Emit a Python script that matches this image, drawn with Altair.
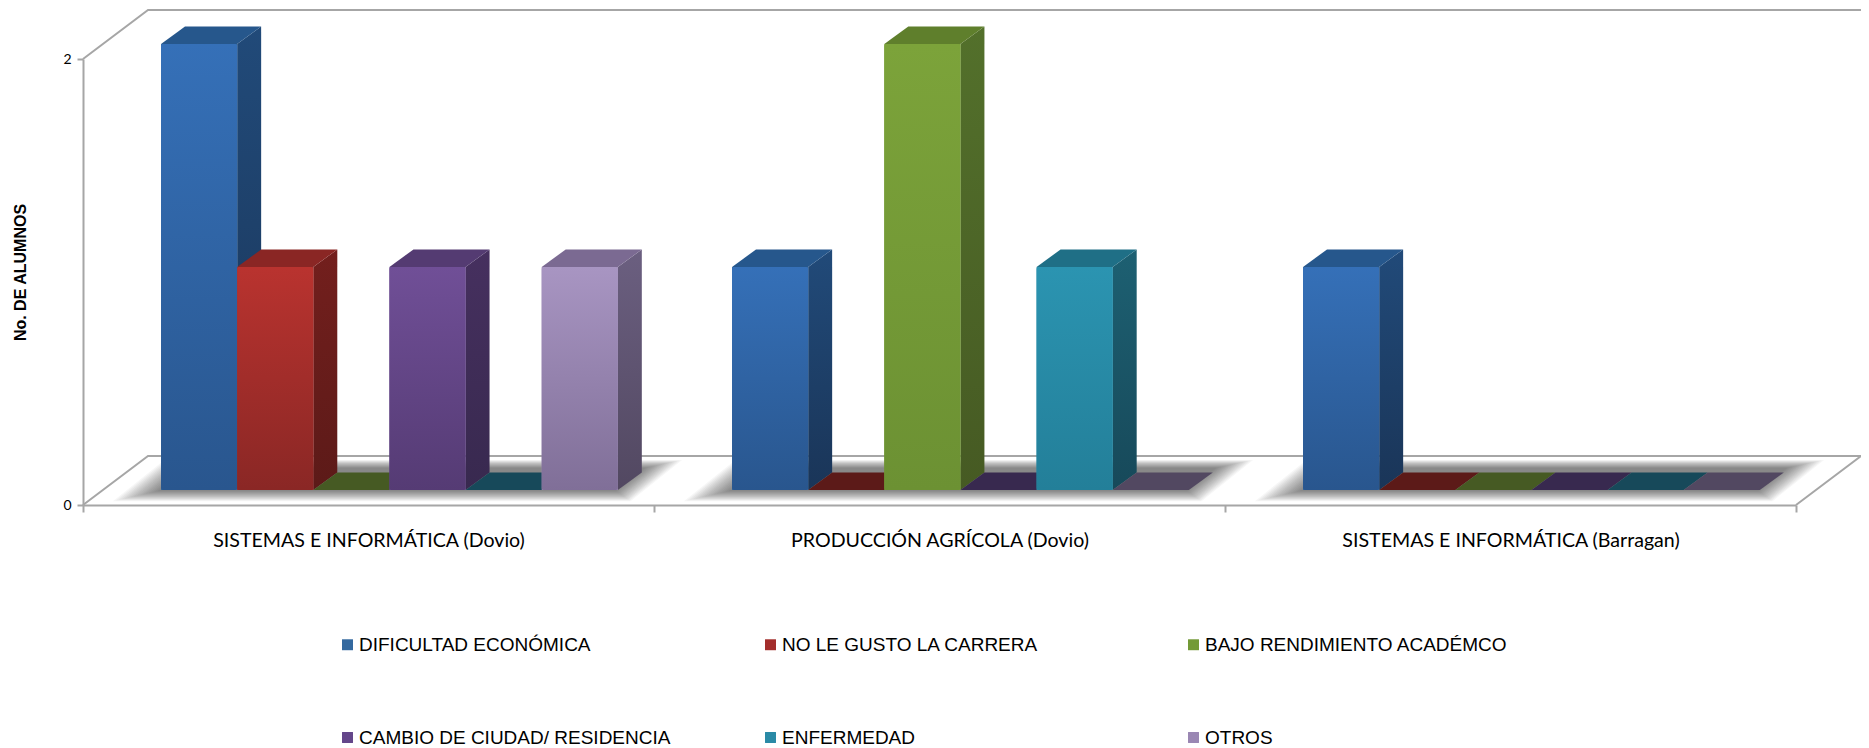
import altair as alt
import pandas as pd

categories = ["SISTEMAS E INFORMÁTICA (Dovio)", "PRODUCCIÓN AGRÍCOLA (Dovio)", "SISTEMAS E INFORMÁTICA (Barragan)"]
series = ["DIFICULTAD ECONÓMICA", "NO LE GUSTO LA CARRERA", "BAJO RENDIMIENTO ACADÉMCO",
          "CAMBIO DE CIUDAD/ RESIDENCIA", "ENFERMEDAD", "OTROS"]
dificultad = [2, 1, 1]
no_gusto = [1, 0, 0]
bajo = [0, 2, 0]
cambio = [1, 0, 0]
enfermedad = [0, 1, 0]
otros = [1, 0, 0]
values = [dificultad, no_gusto, bajo, cambio, enfermedad, otros]

legend_c = ["#34699f", "#a32e2c", "#739a36", "#64468a", "#2a8aa6", "#9a87b3"]
front_top = ["#3570b8", "#b9332f", "#7ca33a", "#704f97", "#2b94b1", "#a895c2"]
front_bot = ["#29568e", "#8a2725", "#6c9133", "#553b74", "#237f99", "#806f98"]
top_c = ["#26578c", "#8a2624", "#5f7f2c", "#543b72", "#1f6f86", "#7b6a92"]
side_top = ["#214a79", "#731f1d", "#53702b", "#46305f", "#1d6072", "#6b5f80"]
side_bot = ["#1a3558", "#5c1a18", "#465a23", "#38294f", "#17495a", "#524861"]

# projection constants, in data units
GROUP = 7.5
START = 1.025
DX, DY = 0.315, 0.079
FLOOR = 0.067
WX, WY = 0.854, 0.22
SLANT = 3.66
AX = "#a6a6a6"

fronts, sides, tops = [], [], []
for g, cat in enumerate(categories):
    for s, name in enumerate(series):
        v = values[s][g]
        x0 = g * GROUP + START + s
        x1 = x0 + 1
        b = FLOOR
        t = v + FLOOR
        bar = f"{g}-{s}"
        if v > 0:
            fronts.append(dict(cat=cat, name=name, s=s, value=v, x0=x0, x1=x1, y0=b, y1=t))
            for k in (0, 1):
                sides.append(dict(bar=bar, s=s, x=x1 + k * DX, y=t + k * DY, y2=b + k * DY))
        col = top_c[s] if v > 0 else side_bot[s]
        for k in (0, 1):
            tops.append(dict(bar=bar, col=col, y=t + k * DY, x=x0 + k * DX, x2=x1 + k * DX))

shadow = []
N = 16
for g in range(len(categories)):
    for k in range(N):
        f = k / (N - 1)
        yf = FLOOR - 0.05 + 0.045 * f
        yb = FLOOR + 0.135 - 0.035 * f
        hl = 0.45 - 0.42 * f
        hr = 0.35 - 0.35 * f
        for y in (yf, yb):
            off = SLANT * (y - FLOOR)
            shadow.append(dict(id=f"{g}-{k}", y=y,
                               x=g * GROUP + START - hl + off,
                               x2=g * GROUP + START + 6 + hr + off))

END = GROUP * 3
frame = [
    dict(seg="a", x=0, y=2), dict(seg="a", x=WX, y=2 + WY),
    dict(seg="a", x=END + 1.0, y=2 + WY),
    dict(seg="b", x=0, y=0), dict(seg="b", x=WX, y=WY), dict(seg="b", x=END + WX, y=WY),
    dict(seg="b", x=END, y=0),
]

x_sc = alt.Scale(domain=[0, END], nice=False, zero=False)
y_sc = alt.Scale(domain=[0, 2], nice=False, zero=False)

label_expr = "datum.value==3.75?'%s':datum.value==11.25?'%s':datum.value==18.75?'%s':''" % tuple(categories)
x_axis = alt.Axis(values=[0, 3.75, 7.5, 11.25, 15, 18.75, 22.5], labelExpr=label_expr, title=None, grid=False,
                  domainColor=AX, domainWidth=2, tickColor=AX, tickWidth=2, tickSize=7,
                  tickOpacity=alt.expr("datum.value % 7.5 == 0 ? 1 : 0"),
                  labelFont="Lato", labelFontSize=19.6, labelColor="#000000", labelPadding=19, labelFlush=False,
                  labelOverlap=False, labelLimit=500)
y_axis = alt.Axis(values=[0, 2], format="d", title="No. DE ALUMNOS", grid=False, domainColor=AX, domainWidth=2,
                  tickColor=AX, tickWidth=2, tickSize=6, labelFont="Lato", labelFontSize=14, labelColor="#000000",
                  labelPadding=6, titleFont="Liberation Sans", titleFontSize=16, titleFontWeight="bold",
                  titleColor="#000000", titleX=-55, titleY=213)


def X(f):
    return alt.X(f, scale=x_sc, axis=x_axis)


def Y(f):
    return alt.Y(f, scale=y_sc, axis=y_axis)


axes = alt.Chart(pd.DataFrame(frame)).mark_line(color=AX, strokeWidth=2, clip=False).transform_window(
    ord="row_number()"
).encode(x=X("x:Q"), y=Y("y:Q"), detail="seg:N", order=alt.Order("ord:Q"))

shadow_layer = alt.Chart(pd.DataFrame(shadow)).mark_area(orient="horizontal", color="#000000", opacity=0.034).encode(
    x=X("x:Q"), x2="x2:Q", y=Y("y:Q"), detail="id:N")

sides_df = pd.DataFrame(sides)
fronts_df = pd.DataFrame(fronts)
layers = [shadow_layer, axes]
for s in range(len(series)):
    sub = sides_df[sides_df.s == s]
    if len(sub):
        grad = alt.Gradient(gradient="linear", x1=0, x2=0, y1=0, y2=1,
                            stops=[alt.GradientStop(color=side_top[s], offset=0),
                                   alt.GradientStop(color=side_bot[s], offset=1)])
        layers.append(alt.Chart(sub).mark_area(color=grad).encode(
            x=X("x:Q"), y=Y("y:Q"), y2="y2:Q", detail="bar:N"))

layers.append(alt.Chart(pd.DataFrame(tops)).mark_area(orient="horizontal").encode(
    x=X("x:Q"), x2="x2:Q", y=Y("y:Q"),
    detail="bar:N", color=alt.Color("col:N", scale=None)))

# the legend fills column by column, so its domain is listed that way to read row by row
legend_order = [0, 3, 1, 4, 2, 5]
legend = alt.Legend(title=None, orient="none", legendX=255, legendY=576, columns=3, gridAlign="all",
                    columnPadding=90, rowPadding=73, symbolType="square", symbolSize=120, symbolStrokeWidth=0,
                    labelFont="Liberation Sans", labelFontSize=19, labelColor="#000000", labelOffset=2, labelLimit=600)
layers.append(alt.Chart(fronts_df).mark_rect().encode(
    x=X("x0:Q"), x2="x1:Q",
    y=Y("y0:Q"), y2="y1:Q",
    color=alt.Color("name:N",
                    scale=alt.Scale(domain=[series[i] for i in legend_order],
                                    range=[legend_c[i] for i in legend_order]),
                    legend=legend),
))
for s in range(len(series)):
    sub = fronts_df[fronts_df.s == s]
    grad = alt.Gradient(gradient="linear", x1=0, x2=0, y1=0, y2=1,
                        stops=[alt.GradientStop(color=front_top[s], offset=0),
                               alt.GradientStop(color=front_bot[s], offset=1)])
    layers.append(alt.Chart(sub).mark_rect(color=grad, cornerRadius=2).encode(
        x=X("x0:Q"), x2="x1:Q",
        y=Y("y0:Q"), y2="y1:Q"))

chart = alt.layer(*layers).properties(
    width=1713, height=446, background="#ffffff",
    autosize=alt.AutoSizeParams(type="none"),
    padding={"left": 75, "top": 51, "right": 65, "bottom": 243},
).configure_view(stroke=None)

chart.save("out.html", embed_options={"renderer": "svg", "actions": False})
